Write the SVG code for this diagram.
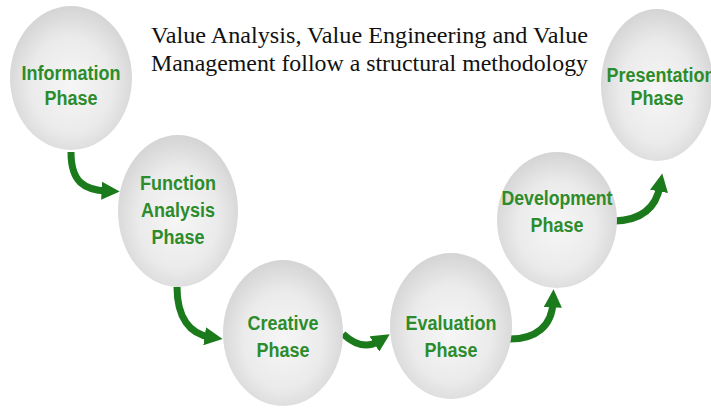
<svg xmlns="http://www.w3.org/2000/svg" width="711" height="409" viewBox="0 0 711 409">
  <style>
    .bubble { fill: url(#bubbleFill); }
    .label { font-family: "Liberation Sans", Arial, sans-serif; font-weight: bold; font-size: 20px; fill: #2c8c2c; text-anchor: middle; }
    .title { font-family: "Liberation Serif", "Times New Roman", serif; font-size: 22.5px; fill: #111; }
    .flow { fill: none; stroke: #1b7a1b; stroke-width: 7; marker-end: url(#head); }
  </style>
  <defs>
    <radialGradient id="bubbleFill" cx="0.5" cy="0.55" r="0.55">
      <stop offset="0" stop-color="#f6f6f6"/>
      <stop offset="0.6" stop-color="#ebebeb"/>
      <stop offset="1" stop-color="#d4d4d4"/>
    </radialGradient>
    <marker id="head" viewBox="0 0 10 10" refX="3" refY="5" markerWidth="2.6" markerHeight="2.6" orient="auto" markerUnits="strokeWidth">
      <path d="M0,0 L10,5 L0,10 z" fill="#1b7a1b"/>
    </marker>
  </defs>

  <rect width="711" height="409" fill="#ffffff"/>

  <text class="title" x="151" y="43" textLength="437" lengthAdjust="spacingAndGlyphs">Value Analysis, Value Engineering and Value</text>
  <text class="title" x="151" y="71" textLength="437" lengthAdjust="spacingAndGlyphs">Management follow a structural methodology</text>

  <g id="connectors">
    <path class="flow" d="M71,152 C71,182 84,190 107,191"/>
    <path class="flow" d="M177,287 C177,318 190,334 210,337"/>
    <path class="flow" d="M343,334 C356,346 368,348 379,341"/>
    <path class="flow" d="M510,339 C536,339 552,326 553,302"/>
    <path class="flow" d="M615,221 C641,220 656,208 660,186"/>
  </g>

  <g id="information">
    <ellipse class="bubble" cx="71" cy="78" rx="61" ry="72"/>
    <text class="label" x="71" y="80" textLength="99" lengthAdjust="spacingAndGlyphs">Information</text>
    <text class="label" x="71" y="105" textLength="53" lengthAdjust="spacingAndGlyphs">Phase</text>
  </g>

  <g id="function-analysis">
    <ellipse class="bubble" cx="178" cy="211" rx="60" ry="76"/>
    <text class="label" x="178" y="190" textLength="76" lengthAdjust="spacingAndGlyphs">Function</text>
    <text class="label" x="178" y="217" textLength="74" lengthAdjust="spacingAndGlyphs">Analysis</text>
    <text class="label" x="178" y="244" textLength="53" lengthAdjust="spacingAndGlyphs">Phase</text>
  </g>

  <g id="creative">
    <ellipse class="bubble" cx="283" cy="333" rx="60" ry="73"/>
    <text class="label" x="283" y="330" textLength="71" lengthAdjust="spacingAndGlyphs">Creative</text>
    <text class="label" x="283" y="357" textLength="53" lengthAdjust="spacingAndGlyphs">Phase</text>
  </g>

  <g id="evaluation">
    <ellipse class="bubble" cx="451" cy="326" rx="61" ry="73"/>
    <text class="label" x="451" y="330" textLength="91" lengthAdjust="spacingAndGlyphs">Evaluation</text>
    <text class="label" x="451" y="357" textLength="53" lengthAdjust="spacingAndGlyphs">Phase</text>
  </g>

  <g id="development">
    <ellipse class="bubble" cx="557" cy="220" rx="60" ry="68"/>
    <text class="label" x="557" y="205" textLength="111" lengthAdjust="spacingAndGlyphs">Development</text>
    <text class="label" x="557" y="232" textLength="53" lengthAdjust="spacingAndGlyphs">Phase</text>
  </g>

  <g id="presentation">
    <ellipse class="bubble" cx="657" cy="85" rx="56" ry="76"/>
    <text class="label" x="661" y="82" textLength="109" lengthAdjust="spacingAndGlyphs">Presentation</text>
    <text class="label" x="657" y="105" textLength="53" lengthAdjust="spacingAndGlyphs">Phase</text>
  </g>
</svg>
